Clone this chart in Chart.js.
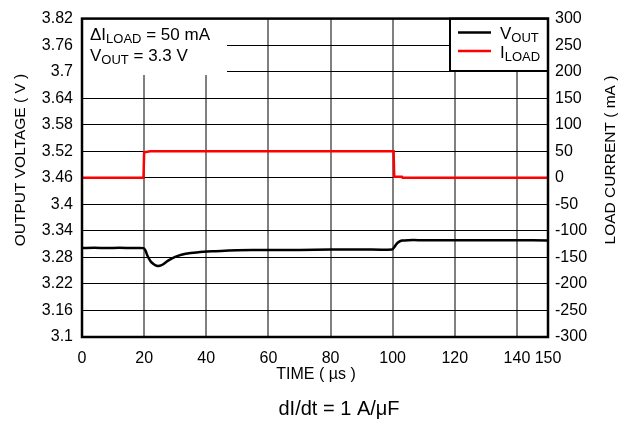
<!DOCTYPE html>
<html>
<head>
<meta charset="utf-8">
<script src="https://cdn.jsdelivr.net/npm/chart.js@4/dist/chart.umd.min.js"></script>
<style>
html,body{margin:0;padding:0;background:#fff;}
canvas{display:block;}
</style>
</head>
<body>
<canvas id="c" width="626" height="422"></canvas>
<script>
// ---- data ----
const TIME_V = [0, 4, 8, 12, 16, 19.8, 20.4, 21, 22, 23, 24, 25, 26, 27, 28, 30, 32, 35, 38, 42, 46, 50, 60, 70, 80, 90, 99.8, 100.5, 101.2, 102, 103, 105, 110, 120, 130, 140, 150];
const VOUT   = [3.301, 3.302, 3.301, 3.302, 3.301, 3.301, 3.296, 3.285, 3.272, 3.265, 3.261, 3.261, 3.264, 3.269, 3.274, 3.281, 3.286, 3.290, 3.292, 3.294, 3.295, 3.296, 3.297, 3.297, 3.298, 3.298, 3.298, 3.303, 3.310, 3.315, 3.318, 3.319, 3.319, 3.319, 3.319, 3.319, 3.318];
const TIME_I = [0, 19.8, 20.0, 22, 100.3, 100.5, 103, 103.2, 150];
const ILOAD  = [0, 0, 48, 50, 50, 2, 2, 0, 0];
const X_TICKS = [0, 20, 40, 60, 80, 100, 120, 140, 150];
const V_TICKS = ["3.1","3.16","3.22","3.28","3.34","3.4","3.46","3.52","3.58","3.64","3.7","3.76","3.82"];
const I_TICKS = [-300, -250, -200, -150, -100, -50, 0, 50, 100, 150, 200, 250, 300];

const FONT = "'Liberation Sans', Arial, sans-serif";

const decor = {
  id: 'decor',
  beforeDatasetsDraw(chart) {
    const ctx = chart.ctx, a = chart.chartArea;
    ctx.save();
    ctx.fillStyle = '#fff';
    ctx.fillRect(a.left, a.top, 227 - a.left, 75 - a.top);
    ctx.fillRect(449, a.top, a.right - 449, 71 - a.top);
    ctx.restore();
  },
  afterDatasetsDraw(chart) {
    const ctx = chart.ctx, a = chart.chartArea;
    ctx.save();
    // legend box
    ctx.strokeStyle = '#000'; ctx.lineWidth = 2;
    ctx.strokeRect(450, a.top, a.right - 450, 71 - a.top);
    ctx.lineWidth = 2.5;
    ctx.beginPath(); ctx.moveTo(458, 32.5); ctx.lineTo(491, 32.5); ctx.stroke();
    ctx.strokeStyle = '#ff0000';
    ctx.beginPath(); ctx.moveTo(458, 51); ctx.lineTo(491, 51); ctx.stroke();
    ctx.fillStyle = '#000';
    ctx.textBaseline = 'alphabetic'; ctx.textAlign = 'left';
    function sub(x, y, main, s, rest, size) {
      ctx.font = size + 'px ' + FONT;
      ctx.fillText(main, x, y);
      x += ctx.measureText(main).width;
      ctx.font = Math.round(size * 0.75) + 'px ' + FONT;
      ctx.fillText(s, x, y + 3);
      x += ctx.measureText(s).width;
      if (rest) { ctx.font = size + 'px ' + FONT; ctx.fillText(rest, x, y); }
    }
    sub(500, 39, 'V', 'OUT', '', 17);
    sub(500, 58, 'I', 'LOAD', '', 17);
    // annotation
    sub(90, 40, '\u0394I', 'LOAD', ' = 50 mA', 17);
    sub(90, 61, 'V', 'OUT', ' = 3.3 V', 17);
    // frame
    ctx.strokeStyle = '#000'; ctx.lineWidth = 2.5;
    ctx.strokeRect(a.left, a.top, a.right - a.left, a.bottom - a.top);
    // titles
    ctx.font = '16px ' + FONT;
    ctx.textAlign = 'center'; ctx.textBaseline = 'middle';
    ctx.fillText('TIME ( \u00b5s )', 316, 375);
    ctx.font = '15.5px ' + FONT;
    ctx.save(); ctx.translate(21, 160); ctx.rotate(-Math.PI / 2);
    ctx.fillText('OUTPUT VOLTAGE ( V )', 0, 0); ctx.restore();
    ctx.save(); ctx.translate(611, 160); ctx.rotate(-Math.PI / 2);
    ctx.fillText('LOAD CURRENT ( mA )', 0, 0); ctx.restore();
    ctx.font = '20px ' + FONT;
    ctx.fillText('dI/dt = 1 A/\u03bcF', 339, 409);
    ctx.restore();
  }
};

new Chart(document.getElementById('c'), {
  type: 'line',
  data: {
    datasets: [
      { label: 'VOUT', yAxisID: 'yV', data: TIME_V.map((t, i) => ({x: t, y: VOUT[i]})),
        borderColor: '#000', borderWidth: 2.5, pointRadius: 0, tension: 0.3, fill: false },
      { label: 'ILOAD', yAxisID: 'yI', data: TIME_I.map((t, i) => ({x: t, y: ILOAD[i]})),
        borderColor: '#ff0000', borderWidth: 2.5, pointRadius: 0, tension: 0, fill: false }
    ]
  },
  options: {
    responsive: false, animation: false, devicePixelRatio: 1,
    layout: { padding: { top: 13, left: 0, right: 0, bottom: 0 } },
    plugins: { legend: { display: false }, tooltip: { enabled: false } },
    scales: {
      x: {
        type: 'linear', min: 0, max: 150,
        afterBuildTicks(s) { s.ticks = X_TICKS.map(v => ({value: v})); },
        afterFit(s) { s.height = 85; },
        ticks: { autoSkip: false, maxRotation: 0, padding: 12, color: '#000', font: { family: FONT, size: 16 } },
        grid: { color: '#808080', lineWidth: 2, drawTicks: false },
        border: { display: false }
      },
      yV: {
        position: 'left', min: 3.1, max: 3.82,
        afterBuildTicks(s) { s.ticks = V_TICKS.map(v => ({value: parseFloat(v)})); },
        afterFit(s) { s.width = 82; },
        ticks: { autoSkip: false, padding: 9, color: '#000', font: { family: FONT, size: 16 },
          callback(v, i) { return V_TICKS[i]; } },
        grid: { color: '#000', lineWidth: 1, drawTicks: false },
        border: { display: false }
      },
      yI: {
        position: 'right', min: -300, max: 300,
        afterBuildTicks(s) { s.ticks = I_TICKS.map(v => ({value: v})); },
        afterFit(s) { s.width = 78; },
        ticks: { autoSkip: false, padding: 7, color: '#000', font: { family: FONT, size: 16 } },
        grid: { display: false, drawTicks: false },
        border: { display: false }
      }
    }
  },
  plugins: [decor]
});
</script>
</body>
</html>
